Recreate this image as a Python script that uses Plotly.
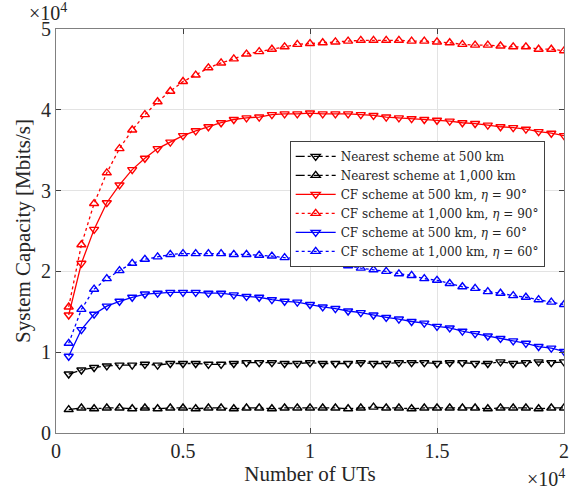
import plotly.graph_objects as go

num_uts = [500 * i for i in range(1, 41)]

nearest_500 = [0.73, 0.78, 0.81, 0.83, 0.84, 0.84, 0.85, 0.84, 0.86, 0.86,
               0.86, 0.85, 0.85, 0.86, 0.87, 0.87, 0.87, 0.86, 0.86, 0.87,
               0.86, 0.86, 0.86, 0.87, 0.86, 0.86, 0.87, 0.87, 0.87, 0.86,
               0.87, 0.87, 0.86, 0.86, 0.88, 0.86, 0.87, 0.88, 0.87, 0.88]
nearest_1000 = [0.29, 0.31, 0.30, 0.31, 0.31, 0.30, 0.31, 0.30, 0.31, 0.31,
                0.30, 0.31, 0.31, 0.30, 0.31, 0.31, 0.30, 0.31, 0.31, 0.31,
                0.31, 0.31, 0.30, 0.31, 0.32, 0.31, 0.31, 0.30, 0.31, 0.31,
                0.31, 0.31, 0.31, 0.30, 0.31, 0.31, 0.31, 0.30, 0.31, 0.31]
cf_500_90 = [1.46, 2.10, 2.52, 2.85, 3.07, 3.26, 3.40, 3.52, 3.60, 3.68,
             3.74, 3.79, 3.84, 3.88, 3.90, 3.91, 3.94, 3.95, 3.95, 3.96,
             3.95, 3.95, 3.95, 3.94, 3.93, 3.91, 3.90, 3.89, 3.88, 3.87,
             3.86, 3.84, 3.83, 3.81, 3.79, 3.78, 3.76, 3.73, 3.71, 3.68]
cf_1000_90 = [1.56, 2.33, 2.84, 3.22, 3.52, 3.75, 3.94, 4.10, 4.23, 4.35,
              4.43, 4.52, 4.58, 4.63, 4.69, 4.72, 4.75, 4.78, 4.81, 4.82,
              4.83, 4.84, 4.85, 4.86, 4.86, 4.86, 4.86, 4.85, 4.85, 4.84,
              4.83, 4.81, 4.80, 4.80, 4.79, 4.78, 4.78, 4.75, 4.75, 4.73]
cf_500_60 = [0.95, 1.28, 1.47, 1.57, 1.63, 1.68, 1.72, 1.73, 1.74, 1.74,
             1.74, 1.73, 1.73, 1.71, 1.69, 1.68, 1.65, 1.63, 1.62, 1.59,
             1.56, 1.54, 1.51, 1.49, 1.46, 1.43, 1.41, 1.38, 1.36, 1.32,
             1.30, 1.26, 1.23, 1.20, 1.17, 1.14, 1.11, 1.07, 1.05, 1.01]
cf_1000_60 = [1.11, 1.53, 1.78, 1.91, 2.01, 2.10, 2.15, 2.18, 2.21, 2.22,
              2.22, 2.22, 2.22, 2.21, 2.21, 2.20, 2.19, 2.17, 2.16, 2.12,
              2.10, 2.09, 2.07, 2.04, 2.02, 2.00, 1.97, 1.95, 1.91, 1.89,
              1.85, 1.81, 1.79, 1.75, 1.73, 1.70, 1.68, 1.65, 1.62, 1.59]

x_tick_vals = [0, 5000, 10000, 15000, 20000]
x_tick_text = ["0", "0.5", "1", "1.5", "2"]
y_tick_vals = [0, 10000, 20000, 30000, 40000, 50000]
y_tick_text = ["0", "1", "2", "3", "4", "5"]

series = [
    ("Nearest scheme at 500 km", nearest_500, "black", "dashdot", "triangle-down-open"),
    ("Nearest scheme at 1,000 km", nearest_1000, "black", "dashdot", "triangle-up-open"),
    ("CF scheme at 500 km, <i>η</i> = 90°", cf_500_90, "#ff0000", "solid", "triangle-down-open"),
    ("CF scheme at 1,000 km, <i>η</i> = 90°", cf_1000_90, "#ff0000", "dot", "triangle-up-open"),
    ("CF scheme at 500 km, <i>η</i> = 60°", cf_500_60, "#0000ff", "solid", "triangle-down-open"),
    ("CF scheme at 1,000 km, <i>η</i> = 60°", cf_1000_60, "#0000ff", "dot", "triangle-up-open"),
]

fig = go.Figure()
for name, vals, color, dash, sym in series:
    fig.add_trace(go.Scatter(
        x=num_uts, y=[v * 1e4 for v in vals], name=name, mode="lines+markers",
        line=dict(color=color, dash=dash, width=1.3),
        marker=dict(symbol=sym, size=8, color=color, line=dict(width=1.4, color=color)),
    ))

serif = "Liberation Serif, serif"
fig.update_layout(
    width=577, height=489,
    margin=dict(l=56, r=13, t=29, b=56, autoexpand=False),
    paper_bgcolor="white", plot_bgcolor="white",
    font=dict(family=serif, size=20, color="#262626"),
    showlegend=True,
    legend=dict(
        x=0.46, y=0.723, xanchor="left", yanchor="top",
        bgcolor="white", bordercolor="#404040", borderwidth=1,
        font=dict(family="DejaVu Serif", size=12, color="#262626"),
        tracegroupgap=0, itemwidth=40,
    ),
    xaxis=dict(
        range=[0, 20000], tickvals=x_tick_vals, ticktext=x_tick_text,
        tickfont=dict(family=serif, size=20, color="#262626"),
        showgrid=True, gridcolor="#e3e3e3", gridwidth=1,
        showline=True, linecolor="#808080", linewidth=1, mirror="ticks",
        ticks="inside", ticklen=5, tickcolor="#404040",
        zeroline=False, automargin=False,
        title=dict(text="Number of UTs", font=dict(family=serif, size=21), standoff=2),
    ),
    yaxis=dict(
        range=[0, 50000], tickvals=y_tick_vals, ticktext=y_tick_text,
        tickfont=dict(family=serif, size=20, color="#262626"),
        showgrid=True, gridcolor="#e3e3e3", gridwidth=1,
        showline=True, linecolor="#808080", linewidth=1, mirror="ticks",
        ticks="inside", ticklen=5, tickcolor="#404040",
        zeroline=False, automargin=False,
        title=dict(text="System Capacity [Mbits/s]", font=dict(family=serif, size=21), standoff=4),
    ),
    annotations=[
        dict(text="×10<sup>4</sup>", xref="paper", yref="paper", x=0.0, y=1.0,
             xanchor="left", yanchor="bottom", showarrow=False, xshift=-29, yshift=3,
             font=dict(family=serif, size=20)),
        dict(text="×10<sup>4</sup>", xref="paper", yref="paper", x=1.0, y=0.0,
             xanchor="right", yanchor="top", showarrow=False, xshift=3, yshift=-31,
             font=dict(family=serif, size=20)),
    ],
)

fig.write_html("out.html", config={"displayModeBar": False},
               post_script="document.body.style.margin='0';")
